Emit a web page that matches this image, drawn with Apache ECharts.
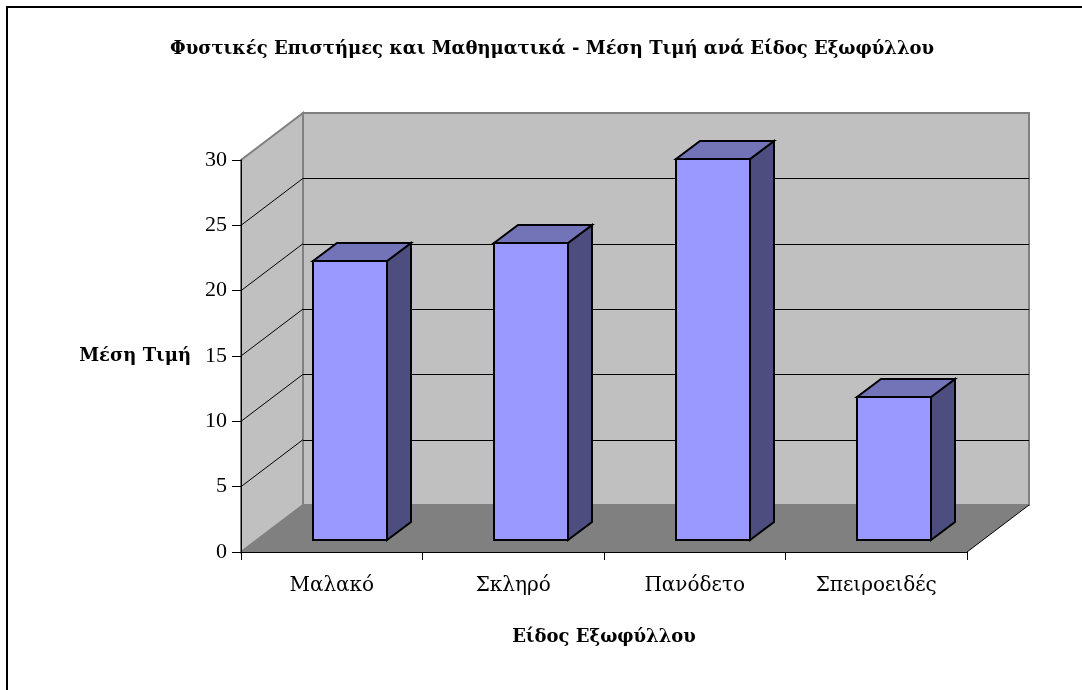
<!DOCTYPE html>
<html><head><meta charset="utf-8">
<style>html,body{margin:0;padding:0;background:#fff}#c{width:1082px;height:690px}</style>
<script src="https://cdn.jsdelivr.net/npm/echarts@6/dist/echarts.min.js"></script>
</head><body><div id="c"></div>
<script>
const categories = ['Μαλακό','Σκληρό','Πανόδετο','Σπειροειδές'];
const values = [21.35, 22.7, 29.15, 10.95];
const gridTicks = [5, 10, 15, 20, 25];
const titleText = 'Φυστικές Επιστήμες και Μαθηματικά - Μέση Τιμή ανά Είδος Εξωφύλλου';
const xName = 'Είδος Εξωφύλλου';
const yName = 'Μέση Τιμή';

const FONT = '"Liberation Serif"';
const WFONT = '"DejaVu Serif"';
const DX = 62, DY = -47;           // wall depth
const BDX = 24, BDY = -18;         // bar depth
const BSX = 18, BSY = -12;         // bar offset from front plane
const BW = 0.405;                  // bar width / band
const crisp = v => Math.round(v) + 0.5;

const chart = echarts.init(document.getElementById('c'), null, {renderer:'canvas'});

function bounds(api){
  const band = api.size([1,0])[0];
  const n = categories.length;
  const x0 = api.coord([0,0])[0] - band/2;
  const x1 = x0 + band*n;
  return {x0, x1, y0: api.coord([0,0])[1], y1: api.coord([0,30])[1]};
}

function renderWalls(p, api){
  const b = bounds(api);
  const grey = {stroke:'#808080', lineWidth:2, fill:'#c0c0c0'};
  return {type:'group', children:[
    {type:'polygon', shape:{points:[[b.x0+DX,b.y1+DY],[b.x1+DX,b.y1+DY],[b.x1+DX,b.y0+DY],[b.x0+DX,b.y0+DY]]}, style:grey},
    {type:'polygon', shape:{points:[[b.x0,b.y0],[b.x0,b.y1],[b.x0+DX,b.y1+DY],[b.x0+DX,b.y0+DY]]}, style:grey},
    {type:'polygon', shape:{points:[[b.x0,b.y0],[b.x0+DX,b.y0+DY],[b.x1+DX,b.y0+DY],[b.x1,b.y0]]}, style:{fill:'#808080'}},
    {type:'line', shape:{x1:b.x1,y1:b.y0,x2:b.x1+DX,y2:b.y0+DY}, style:{stroke:'#000',lineWidth:1}},
    {type:'line', shape:{x1:b.x0,y1:b.y0,x2:b.x0+DX,y2:b.y0+DY}, style:{stroke:'#808080',lineWidth:1}}
  ]};
}

function renderGrid(p, api){
  const b = bounds(api);
  const y = api.coord([0, api.value(0)])[1];
  const yb = crisp(y+DY);
  return {type:'group', children:[
    {type:'line', shape:{x1:b.x0,y1:y,x2:b.x0+DX,y2:y+DY}, style:{stroke:'#000',lineWidth:1}},
    {type:'line', shape:{x1:b.x0+DX,y1:yb,x2:b.x1+DX,y2:yb}, style:{stroke:'#000',lineWidth:1}}
  ]};
}

function renderBar(p, api){
  const i = api.value(0), v = api.value(1);
  const band = api.size([1,0])[0];
  const w = band*BW;
  const c = api.coord([i,v]), c0 = api.coord([i,0]);
  const l = Math.round(c[0]+BSX-w/2), r = Math.round(l+w);
  const t = Math.round(c[1]+BSY), bt = Math.round(c0[1]+BSY);
  const line = {stroke:'#000', lineWidth:2, lineJoin:'miter'};
  return {type:'group', children:[
    {type:'polygon', shape:{points:[[r,t],[r+BDX,t+BDY],[r+BDX,bt+BDY],[r,bt]]}, style:Object.assign({fill:'#4d4d80'},line)},
    {type:'polygon', shape:{points:[[l,t],[l+BDX,t+BDY],[r+BDX,t+BDY],[r,t]]}, style:Object.assign({fill:'#7373b8'},line)},
    {type:'polygon', shape:{points:[[l,t],[r,t],[r,bt],[l,bt]]}, style:Object.assign({fill:'#9999ff'},line)}
  ]};
}

chart.setOption({
  animation:false,
  backgroundColor:'#fff',
  textStyle:{fontFamily:FONT},
  title:{text:titleText,left:547,top:35,textAlign:'center',
    textStyle:{fontFamily:WFONT,fontSize:18,fontWeight:'bold',color:'#000'}},
  grid:{left:241,right:115,top:160,bottom:138,containLabel:false},
  xAxis:{type:'category',data:categories,z:5,boundaryGap:true,
    name:xName,nameLocation:'middle',nameGap:76,
    nameTextStyle:{fontFamily:WFONT,fontSize:18,fontWeight:'bold',color:'#000'},
    axisLine:{lineStyle:{color:'#000',width:1}},
    axisTick:{show:true,alignWithLabel:false,length:8,lineStyle:{color:'#000'}},
    axisLabel:{fontFamily:WFONT,fontSize:20,color:'#000',margin:24,interval:0},
    splitLine:{show:false}},
  yAxis:{type:'value',min:0,max:30,interval:5,z:5,
    name:yName,nameLocation:'middle',nameRotate:0,nameGap:50,
    nameTextStyle:{fontFamily:WFONT,fontSize:18,fontWeight:'bold',color:'#000',padding:[8,0,0,0]},
    axisLine:{show:true,lineStyle:{color:'#000',width:1}},
    axisTick:{show:true,length:9,lineStyle:{color:'#000'}},
    axisLabel:{fontFamily:FONT,fontSize:22,color:'#000',margin:14},
    splitLine:{show:false}},
  graphic:[{type:'rect',silent:true,z:-1,shape:{x:7,y:7,width:1120,height:720},
    style:{fill:'none',stroke:'#000',lineWidth:2}}],
  series:[
    {type:'custom',name:'walls',coordinateSystem:'cartesian2d',clip:false,z:1,silent:true,data:[[0]],renderItem:renderWalls},
    {type:'custom',name:'grid',coordinateSystem:'cartesian2d',clip:false,z:2,silent:true,encode:{y:0},data:gridTicks.map(t=>[t]),renderItem:renderGrid},
    {type:'custom',name:'Μέση Τιμή',coordinateSystem:'cartesian2d',clip:false,z:3,encode:{x:0,y:1},
     data:values.map((v,i)=>[i,v]),renderItem:renderBar}
  ]
});
</script></body></html>
